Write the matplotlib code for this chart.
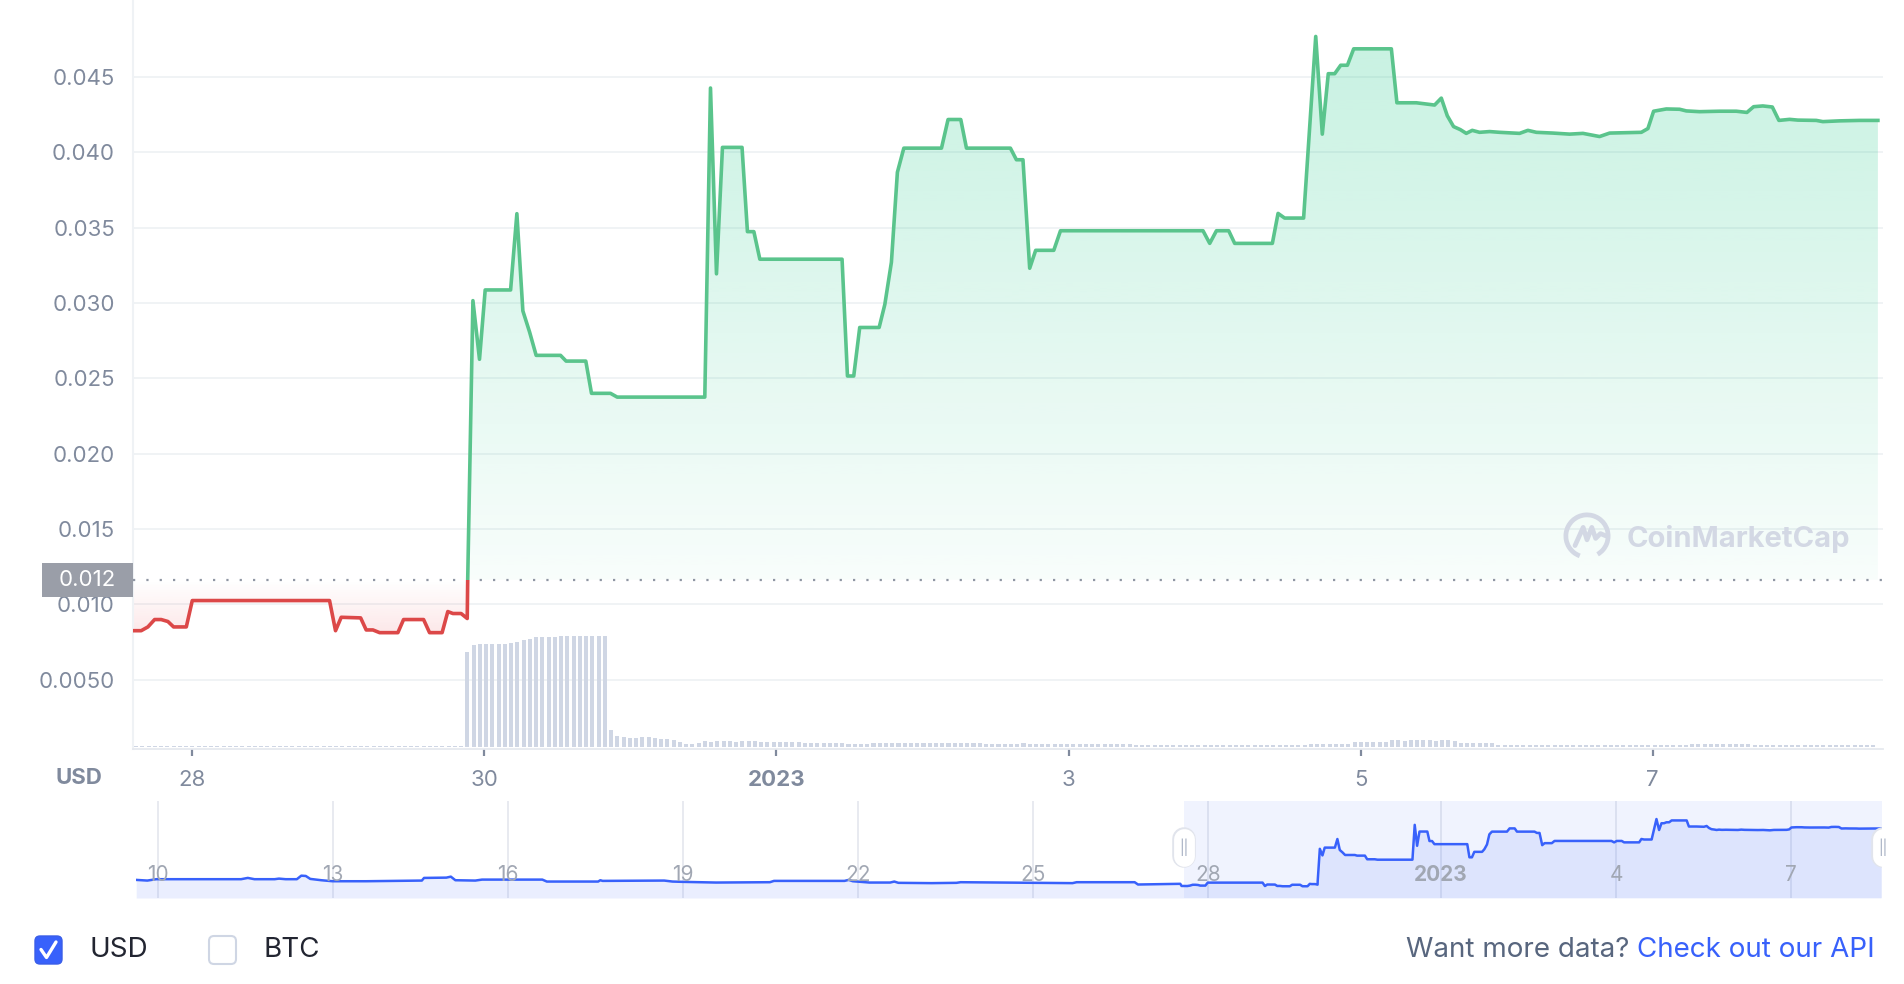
import numpy as np
import matplotlib.pyplot as plt
import matplotlib.colors as mcolors
from matplotlib.patches import Rectangle, PathPatch, FancyBboxPatch, Arc
from matplotlib.transforms import blended_transform_factory

plt.rcParams['font.family'] = ['Inter', 'DejaVu Sans']

# time axis: days since 2022-12-28 00:00
price_days = [
    -0.407, -0.351, -0.305, -0.259, -0.214, -0.168, -0.129, -0.042, -0.001, 0.939,
    0.980, 1.019, 1.152, 1.190, 1.236, 1.282, 1.407, 1.446, 1.583, 1.624,
    1.710, 1.749, 1.784, 1.840, 1.882, 1.885, 1.921, 1.966, 2.005, 2.179,
    2.222, 2.263, 2.309, 2.354, 2.521, 2.559, 2.694, 2.733, 2.863, 2.909,
    3.509, 3.548, 3.589, 3.630, 3.764, 3.801, 3.845, 3.886, 4.449, 4.486,
    4.529, 4.570, 4.703, 4.742, 4.787, 4.828, 4.872, 5.130, 5.175, 5.262,
    5.301, 5.602, 5.643, 5.688, 5.734, 5.775, 5.899, 5.945, 6.921, 6.967,
    7.013, 7.097, 7.138, 7.396, 7.435, 7.480, 7.610, 7.693, 7.738, 7.779,
    7.823, 7.864, 7.910, 7.953, 8.211, 8.249, 8.382, 8.507, 8.553, 8.594,
    8.637, 8.683, 8.724, 8.765, 8.815, 8.884, 8.952, 9.089, 9.146, 9.204,
    9.317, 9.432, 9.523, 9.637, 9.706, 9.923, 9.968, 10.007, 10.094, 10.185,
    10.231, 10.322, 10.459, 10.573, 10.646, 10.692, 10.755, 10.820, 10.865, 10.938,
    10.995, 11.121, 11.166, 11.280, 11.417, 11.543,
]
price_usd = [
    0.00825, 0.00825, 0.00850, 0.00899, 0.00899, 0.00886, 0.00850, 0.00850, 0.01025, 0.01025,
    0.00825, 0.00914, 0.00910, 0.00830, 0.00830, 0.00812, 0.00812, 0.00899, 0.00899, 0.00812,
    0.00812, 0.00952, 0.00939, 0.00939, 0.00906, 0.01150, 0.03015, 0.02626, 0.03086, 0.03086,
    0.03592, 0.02947, 0.02807, 0.02652, 0.02652, 0.02614, 0.02614, 0.02400, 0.02400, 0.02375,
    0.02375, 0.04426, 0.03193, 0.04032, 0.04032, 0.03473, 0.03473, 0.03290, 0.03290, 0.02515,
    0.02515, 0.02837, 0.02837, 0.02990, 0.03270, 0.03867, 0.04027, 0.04027, 0.04217, 0.04217,
    0.04027, 0.04027, 0.03950, 0.03950, 0.03230, 0.03349, 0.03349, 0.03479, 0.03479, 0.03395,
    0.03479, 0.03479, 0.03395, 0.03395, 0.03594, 0.03563, 0.03563, 0.04768, 0.04120, 0.04521,
    0.04521, 0.04577, 0.04577, 0.04686, 0.04686, 0.04328, 0.04328, 0.04313, 0.04359, 0.04242,
    0.04170, 0.04150, 0.04125, 0.04145, 0.04132, 0.04137, 0.04132, 0.04125, 0.04145, 0.04132,
    0.04127, 0.04120, 0.04125, 0.04104, 0.04127, 0.04132, 0.04157, 0.04272, 0.04287, 0.04285,
    0.04274, 0.04269, 0.04272, 0.04272, 0.04264, 0.04302, 0.04307, 0.04300, 0.04211, 0.04218,
    0.04213, 0.04211, 0.04203, 0.04208, 0.04211, 0.04211,
]

# navigator history before the zoomed window
nav_days = [
    -18.374, -18.183, -18.029, -16.575, -16.460, -16.346, -16.000, -15.926, -15.811, -15.619,
    -15.543, -15.466, -15.389, -15.199, -15.007, -14.432, -13.476, -13.438, -13.056, -12.979,
    -12.901, -12.559, -12.444, -11.410, -11.333, -10.453, -10.416, -10.376, -9.320, -9.178,
    -9.001, -8.432, -7.508, -7.438, -6.229, -6.157, -6.087, -5.802, -5.447, -5.375,
    -5.305, -4.736, -4.309, -4.239, -2.320, -2.248, -1.254, -1.197, -0.472, -0.450,
]
nav_usd = [
    0.01186, 0.01146, 0.01227, 0.01227, 0.01302, 0.01227, 0.01227, 0.01261, 0.01227, 0.01227,
    0.01435, 0.01417, 0.01244, 0.01166, 0.01107, 0.01107, 0.01146, 0.01302, 0.01319, 0.01377,
    0.01166, 0.01146, 0.01203, 0.01203, 0.01088, 0.01088, 0.01166, 0.01127, 0.01146, 0.01088,
    0.01070, 0.01030, 0.01050, 0.01127, 0.01127, 0.01186, 0.01107, 0.01030, 0.01030, 0.01088,
    0.01013, 0.00995, 0.01013, 0.01050, 0.00995, 0.01050, 0.01050, 0.00914, 0.00955, 0.00830,
]

# hourly volume bars (arbitrary units)
vol_first_day = -0.386
vol_step_days = 0.0428
volume = [
    1.2, 1.2, 1.2, 1.2, 1.2, 1.2, 1.2, 1.2, 1.2, 1.2, 1.2, 1.2, 1.2, 1.2, 1.2, 1.2, 1.2, 1.2,
    1.2, 1.2, 1.2, 1.2, 1.2, 1.2, 1.2, 1.2, 1.2, 1.2, 1.2, 1.2, 1.2, 1.2, 1.2, 1.2, 1.2, 1.2,
    1.2, 1.2, 1.2, 1.2, 1.2, 1.2, 1.2, 1.2, 1.2, 1.2, 1.2, 1.2, 1.2, 1.2, 1.2, 1.2, 1.2,
    94.7, 101.3, 102.7, 102.7, 102.7, 102.7, 102.7, 104.0, 105.0, 106.7, 107.7, 109.3,
    109.3, 109.3, 109.3, 110.3, 110.3, 110.3, 110.3, 110.3, 110.3, 110.3, 110.3,
    16.7, 10.7, 9.3, 8.7, 8.7, 9.7, 9.7, 8.7, 7.7, 7.7, 6.3, 4.3, 2.7, 2.7, 3.7, 5.7,
    4.7, 5.7, 5.7, 5.7, 4.7, 5.7, 5.7, 5.7, 4.7, 4.7, 4.7, 4.7, 4.7, 4.7, 4.7,
    4.0, 4.0, 4.0, 4.0, 4.0, 4.0, 4.0, 2.7, 2.7, 2.7, 2.7,
    3.3, 3.3, 3.3, 3.3, 3.3, 3.3, 3.3, 3.3, 3.3, 3.3, 3.3, 3.3, 3.3, 3.3, 3.3,
    4.0, 4.0, 4.0, 2.7, 2.7, 2.7, 2.7, 2.7, 2.7, 3.3,
    2.3, 2.3, 2.3, 2.3, 2.3, 2.3, 2.3, 2.3, 2.3, 2.3, 2.3, 2.3, 2.3, 2.3, 2.3, 2.3, 2.3,
    1.3, 1.3, 1.3, 1.3, 1.3, 1.3, 1.3, 1.3, 1.3, 1.3, 1.3, 1.3, 1.3, 1.3,
    1.3, 1.3, 1.3, 1.3, 1.3, 1.3, 1.3, 1.3, 1.3, 1.3, 1.3, 1.3, 1.3, 1.3,
    2.3, 2.3, 2.3, 2.3, 2.3, 2.3, 2.3, 5.0, 5.0, 5.0, 5.0, 5.0, 5.0,
    7.0, 7.0, 6.0, 7.0, 7.0, 7.0, 7.0, 6.0, 7.0, 7.0, 6.0,
    4.0, 4.0, 4.0, 4.0, 4.0, 4.0, 2.0, 2.0, 2.0, 2.0, 2.0, 2.0, 2.0, 2.0,
    1.3, 1.3, 1.3, 1.3, 1.3, 1.3, 1.3, 1.3, 1.3, 1.3, 1.3, 1.3, 1.3, 1.3, 1.3, 1.3,
    1.3, 1.3, 1.3, 1.3, 1.3, 1.3, 1.3,
    2.3, 2.3, 2.3, 2.3, 2.3, 2.3, 2.3, 2.3, 2.3, 2.3,
    1.3, 1.3, 1.3, 1.3, 1.3, 1.3, 1.3, 1.3, 1.3, 1.3, 1.3, 1.3, 1.3, 1.3, 1.3, 1.3,
    1.3, 1.3, 1.3, 1.3,
]

current_price = 0.01163
current_label = '0.012'

y_ticks = [0.005, 0.010, 0.015, 0.020, 0.025, 0.030, 0.035, 0.040, 0.045]
y_tick_labels = ['0.0050', '0.010', '0.015', '0.020', '0.025', '0.030', '0.035', '0.040', '0.045']
x_ticks = [0, 2, 4, 6, 8, 10]
x_tick_labels = ['28', '30', '2023', '3', '5', '7']
nav_ticks = [-18, -15, -12, -9, -6, -3, 0, 4, 7, 10]
nav_tick_labels = ['10', '13', '16', '19', '22', '25', '28', '2023', '4', '7']

GREEN = '#16c784'
GREEN_LINE = '#5ac48c'
RED = '#ea3943'
RED_LINE = '#dc4848'
BLUE = '#3861fb'
GREY_TXT = '#808a9d'
GRID = '#eff2f5'

XMIN, XMAX = -0.407, 11.578


def gradient_fill(ax, x, y, base, color, lo, hi, a_lo, a_hi):
    band = ax.fill_between(x, y, base, facecolor='none', edgecolor='none')
    clip = PathPatch(band.get_paths()[0], facecolor='none', edgecolor='none')
    ax.add_patch(clip)
    grad = np.zeros((256, 1, 4))
    grad[..., :3] = mcolors.to_rgb(color)
    grad[:, 0, 3] = np.linspace(a_lo, a_hi, 256)
    img = ax.imshow(grad, extent=[x[0], x[-1], lo, hi], origin='lower',
                    aspect='auto', interpolation='bilinear', zorder=2)
    img.set_clip_path(clip)


fig = plt.figure(figsize=(19.04, 9.84), dpi=100)
rect = [133 / 1904, 1 - 749 / 984, 1750 / 1904, 749 / 984]

# ---- main price chart ----
ax = fig.add_axes(rect)
t = np.array(price_days)
p = np.array(price_usd)

gradient_fill(ax, t, np.maximum(p, current_price), current_price, GREEN,
              current_price, p.max(), 0.03, 0.24)
gradient_fill(ax, t, np.minimum(p, current_price), current_price, RED,
              p.min(), current_price, 0.12, 0.0)

up, = ax.plot(t, p, color=GREEN_LINE, lw=2.6, zorder=4, solid_joinstyle='round')
up.set_clip_path(Rectangle((XMIN, current_price), XMAX - XMIN, 1, transform=ax.transData))
down, = ax.plot(t, p, color=RED_LINE, lw=2.6, zorder=4, solid_joinstyle='round')
down.set_clip_path(Rectangle((XMIN, -1), XMAX - XMIN, 1 + current_price, transform=ax.transData))

ax.axhline(current_price, color='#8f96a3', lw=1.6, linestyle=(0, (1, 5)), zorder=3)

ax.set_xlim(XMIN, XMAX)
ax.set_ylim(0.0004, 0.0501)
ax.set_yticks(y_ticks)
ax.set_yticklabels(y_tick_labels)
ax.set_xticks(x_ticks)
ax.set_xticklabels(x_tick_labels)
for lab in ax.get_xticklabels():
    if lab.get_text() == '2023':
        lab.set_fontweight('bold')
ax.yaxis.grid(True, color=GRID, lw=1.3)
ax.set_axisbelow(True)
ax.tick_params(axis='y', length=0, pad=13, labelsize=16, labelcolor=GREY_TXT)
ax.tick_params(axis='x', length=5, width=1.6, color=GREY_TXT, pad=10,
               labelsize=16, labelcolor=GREY_TXT)
for side in ['top', 'right']:
    ax.spines[side].set_visible(False)
ax.spines['left'].set_color(GRID)
ax.spines['left'].set_linewidth(1.5)
ax.spines['bottom'].set_color('#e6e9ef')
ax.spines['bottom'].set_linewidth(1.3)

# current price tag
tag_tr = blended_transform_factory(ax.transAxes, ax.transData)
ax.add_patch(Rectangle((-91 / 1750, current_price - 0.00113), 91 / 1750, 0.00226,
                       transform=tag_tr, facecolor='#9a9ea8', edgecolor='none',
                       clip_on=False, zorder=6))
ax.text(-45.5 / 1750, current_price, current_label, transform=tag_tr, color='white',
        fontsize=16, ha='center', va='center', zorder=7)

# ---- volume bars ----
ax_vol = fig.add_axes(rect)
ax_vol.patch.set_visible(False)
ax_vol.axis('off')
vol_x = vol_first_day + vol_step_days * np.arange(len(volume))
ax_vol.bar(vol_x, volume, width=0.0275, color='#cfd6e4', linewidth=0)
ax_vol.set_xlim(XMIN, XMAX)
ax_vol.set_ylim(-2.3, 746.7)

fig.text(79 / 1904, 1 - 778 / 984, 'USD', fontsize=16, fontweight='bold',
         color=GREY_TXT, ha='center', va='center')

# ---- watermark ----
ax_logo = fig.add_axes([1563 / 1904, 1 - 560 / 984, 48 / 1904, 48 / 984])
ax_logo.axis('off')
ax_logo.set_xlim(0, 1)
ax_logo.set_ylim(0, 1)
ax_logo.add_patch(Arc((0.5, 0.5), 0.88, 0.88, theta1=-60, theta2=250,
                      color='#d3d8e4', lw=3.4))
ax_logo.plot([0.25, 0.42, 0.5, 0.6, 0.68, 0.78, 0.9], [0.3, 0.68, 0.42, 0.68, 0.45, 0.55, 0.5],
             color='#d3d8e4', lw=3.4, solid_capstyle='round', solid_joinstyle='round')
fig.text(1627 / 1904, 1 - 539 / 984, 'CoinMarketCap', fontsize=21, fontweight='bold',
         color='#d3d8e4', ha='left', va='center')

# ---- navigator ----
ax_nav = fig.add_axes([136 / 1904, 1 - 898 / 984, 1746 / 1904, 97 / 984])
ax_nav.axis('off')
nt = np.concatenate([nav_days, price_days])
nv = np.concatenate([nav_usd, price_usd])
nav_ylim = (0.0012, 0.0583)
for tk in nav_ticks:
    ax_nav.axvline(tk, color='#e6e8ef', lw=1.3, zorder=0)
ax_nav.fill_between(nt, nv, nav_ylim[0], color=BLUE, alpha=0.1, lw=0, zorder=1)
ax_nav.axvspan(XMIN, XMAX, color=BLUE, alpha=0.07, lw=0, zorder=1)
ax_nav.plot(nt, nv, color=BLUE, lw=1.8, zorder=3)
ax_nav.set_xlim(-18.377, 11.56)
ax_nav.set_ylim(*nav_ylim)
nav_tr = blended_transform_factory(ax_nav.transData, ax_nav.transAxes)
for tk, lab in zip(nav_ticks, nav_tick_labels):
    ax_nav.text(tk, 0.237, lab, transform=nav_tr, fontsize=15, color='#a1a7b3',
                ha='center', va='center', zorder=4,
                fontweight='bold' if lab == '2023' else 'normal')
for hx in [XMIN, XMAX]:
    ax_nav.plot([hx, hx], [0.43, 0.61], transform=nav_tr, color='#e1e4ec', lw=17,
                solid_capstyle='round', zorder=5)
    ax_nav.plot([hx, hx], [0.43, 0.61], transform=nav_tr, color='white', lw=15,
                solid_capstyle='round', zorder=6)
    ax_nav.text(hx, 0.52, '||', transform=nav_tr, fontsize=10, color='#a6b0c3',
                ha='center', va='center', zorder=7)

# ---- bottom controls ----
inch = fig.dpi_scale_trans
fig.patches.append(FancyBboxPatch((0.35, 0.20), 0.27, 0.28,
                                  boxstyle='round,pad=0,rounding_size=0.05',
                                  facecolor=BLUE, edgecolor='#3a5ee8', lw=1, transform=inch))
fig.lines.append(plt.Line2D([0.41, 0.465, 0.56], [0.345, 0.265, 0.42], color='white',
                            lw=2.4, transform=inch, solid_capstyle='round',
                            solid_joinstyle='round'))
fig.patches.append(FancyBboxPatch((2.09, 0.20), 0.27, 0.28,
                                  boxstyle='round,pad=0,rounding_size=0.05',
                                  facecolor='white', edgecolor='#cfd6e4', lw=1.5, transform=inch))
fig.text(89 / 1904, 1 - 950 / 984, 'USD', fontsize=20, color='#222531', va='center')
fig.text(263 / 1904, 1 - 950 / 984, 'BTC', fontsize=20, color='#222531', va='center')
link = fig.text(1875 / 1904, 1 - 950 / 984, 'Check out our API', fontsize=20,
                color=BLUE, ha='right', va='center')
ax_nav.annotate('Want more data? ', xy=(0, 0.5), xycoords=link, fontsize=20,
                color='#58667e', ha='right', va='center', annotation_clip=False)

fig.savefig('out.png', dpi=100)
